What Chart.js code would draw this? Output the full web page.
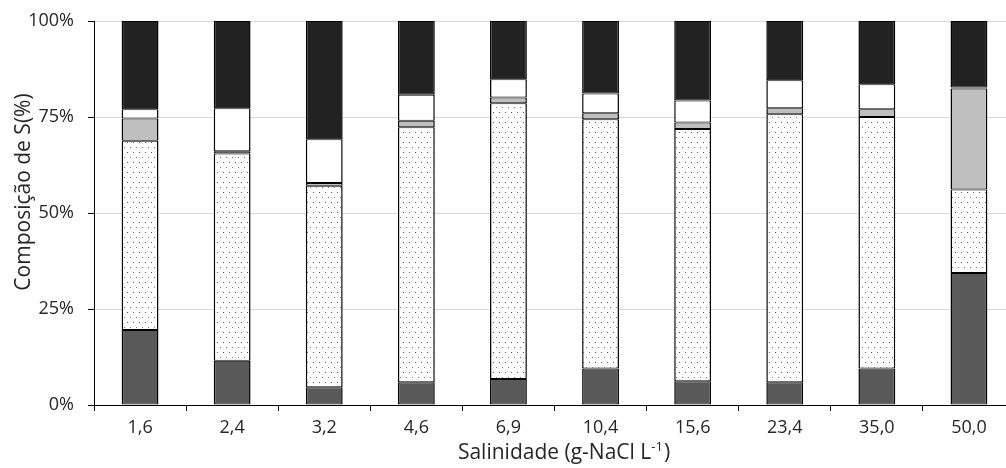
<!DOCTYPE html>
<html>
<head>
<meta charset="utf-8">
<script src="https://cdn.jsdelivr.net/npm/chart.js@4/dist/chart.umd.min.js"></script>
<style>
html,body{margin:0;padding:0;overflow:hidden;background:#fff;}
#wrap{position:relative;width:1015px;height:468px;}
</style>
</head>
<body>
<div id="wrap"><canvas id="c" width="1015" height="468"></canvas></div>
<script>
const categories = ['1,6','2,4','3,2','4,6','6,9','10,4','15,6','23,4','35,0','50,0'];
const darkGrey  = [19.5, 11.5, 4.6, 5.9, 6.8, 9.5, 6.2, 5.9, 9.5, 34.4];
const dotted    = [49.3, 54.0, 52.5, 66.4, 71.8, 64.9, 65.7, 69.8, 65.5, 21.7];
const lightGrey = [5.8, 0.6, 0.7, 1.7, 1.5, 1.6, 1.7, 1.6, 2.0, 26.3];
const white     = [2.4, 11.2, 11.4, 6.8, 4.7, 5.1, 5.7, 7.3, 6.5, 0.3];
const black     = [23.0, 22.7, 30.8, 19.2, 15.2, 18.9, 20.7, 15.4, 16.5, 17.3];
const yTicks = [0, 25, 50, 75, 100];
const yTitle = 'Composição de S(%)';
const xTitleMain = 'Salinidade (g-NaCl L';
const xTitleSup = '-1';
const xTitleEnd = ')';

const FONT = "'Open Sans', sans-serif";
const TXT = '#262626';

function dotPattern(){
  const p = document.createElement('canvas');
  p.width = 6; p.height = 10;
  const g = p.getContext('2d');
  g.fillStyle = '#fff'; g.fillRect(0,0,6,10);
  g.fillStyle = '#555'; g.fillRect(1,2,1,1);
  g.fillStyle = '#777'; g.fillRect(4,7,1,1);
  return document.getElementById('c').getContext('2d').createPattern(p,'repeat');
}

const titlePlugin = {
  id:'axisTitles',
  afterDraw(chart){
    const ctx = chart.ctx;
    ctx.save();
    ctx.fillStyle = TXT;
    ctx.textBaseline = 'alphabetic';
    ctx.textAlign = 'left';
    const big = '21px ' + FONT, small = '13px ' + FONT;
    ctx.font = big;
    const w1 = ctx.measureText(xTitleMain).width;
    const w3 = ctx.measureText(xTitleEnd).width;
    ctx.font = small;
    const w2 = ctx.measureText(xTitleSup).width;
    const total = w1 + w2 + w3 + 1;
    let x = 564 - total/2;
    const base = 459;
    ctx.font = big; ctx.fillText(xTitleMain, x, base); x += w1;
    ctx.font = small; ctx.fillText(xTitleSup, x, base - 8); x += w2 + 1;
    ctx.font = big; ctx.fillText(xTitleEnd, x, base);
    ctx.translate(30, 192);
    ctx.rotate(-Math.PI/2);
    ctx.textAlign = 'center';
    ctx.font = big;
    ctx.fillText(yTitle, 0, 0);
    ctx.restore();
  }
};

const common = {borderColor:'#000', borderWidth:{top:1,bottom:1,left:1.5,right:1.5}, borderSkipped:false, barPercentage:0.4, categoryPercentage:1.0};
new Chart(document.getElementById('c'), {
  type:'bar',
  data:{
    labels:categories,
    datasets:[
      Object.assign({label:'a', data:darkGrey, backgroundColor:'#595959'}, common),
      Object.assign({label:'b', data:dotted, backgroundColor:dotPattern()}, common),
      Object.assign({label:'c', data:lightGrey, backgroundColor:'#bfbfbf'}, common),
      Object.assign({label:'d', data:white, backgroundColor:'#ffffff'}, common),
      Object.assign({label:'e', data:black, backgroundColor:'#222222'}, common)
    ]
  },
  plugins:[titlePlugin],
  options:{
    responsive:false, animation:false, devicePixelRatio:1,
    layout:{padding:{top:21,left:0,right:0,bottom:0}},
    plugins:{legend:{display:false}, tooltip:{enabled:false}},
    scales:{
      x:{
        stacked:true,
        afterFit:s=>{s.height=63; s.paddingLeft=0; s.paddingRight=0;},
        grid:{display:true, drawOnChartArea:false, drawTicks:true, tickLength:6, tickColor:'#000', offset:true},
        border:{display:true, color:'#000', width:1},
        ticks:{color:TXT, font:{family:FONT, size:18}, padding:6, maxRotation:0}
      },
      y:{
        stacked:true, min:0, max:100,
        afterFit:s=>{s.width=94; s.paddingTop=0; s.paddingBottom=0;},
        afterBuildTicks:s=>{s.ticks = yTicks.map(v=>({value:v}));},
        grid:{color:'#d9d9d9', lineWidth:1, tickLength:6, tickColor:'#000'},
        border:{display:true, color:'#000', width:1},
        ticks:{color:TXT, font:{family:FONT, size:18}, padding:14, callback:v=>v+'%'}
      }
    }
  }
});
</script>
</body>
</html>
